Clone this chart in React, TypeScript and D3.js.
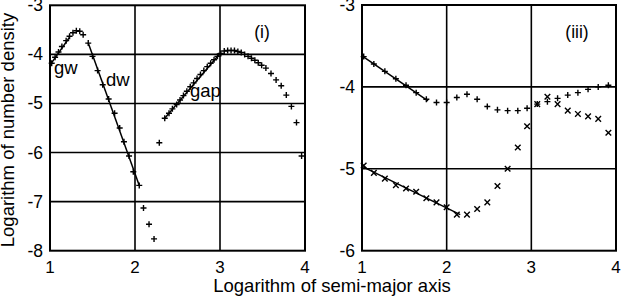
import React from 'react';
import * as d3 from 'd3';

// panel (i): log number density vs log semi-major axis
const gwX = [1.02, 1.06, 1.1, 1.14, 1.19, 1.23, 1.27, 1.31, 1.35, 1.39];
const gwY = [-4.18, -4.06, -3.95, -3.84, -3.72, -3.63, -3.56, -3.52, -3.53, -3.6];
const dwX = [1.45, 1.5, 1.56, 1.62, 1.69, 1.76, 1.82, 1.87, 1.93, 1.98, 2.05];
const dwY = [-3.77, -4.04, -4.33, -4.62, -4.91, -5.2, -5.5, -5.78, -6.07, -6.39, -6.67];
const dropX = [2.1, 2.165, 2.224, 2.286];
const dropY = [-7.13, -7.46, -7.76, -5.8];
const gapX = [
  2.35, 2.4, 2.44, 2.49, 2.53, 2.57, 2.61, 2.65, 2.69, 2.73, 2.77, 2.81, 2.85, 2.89, 2.93, 2.97,
  3.01, 3.05, 3.09, 3.13, 3.17, 3.21, 3.25, 3.29, 3.33, 3.37, 3.41, 3.45, 3.49, 3.54, 3.6, 3.66,
  3.72, 3.78, 3.84, 3.9, 3.96,
];
const gapY = [
  -5.3, -5.2, -5.11, -5.02, -4.93, -4.84, -4.75, -4.66, -4.58, -4.49, -4.41, -4.33, -4.25, -4.18,
  -4.11, -4.04, -3.98, -3.93, -3.92, -3.92, -3.92, -3.94, -3.96, -4.0, -4.04, -4.08, -4.12, -4.17,
  -4.22, -4.28, -4.39, -4.52, -4.64, -4.83, -5.06, -5.39, -6.07,
];
// fitted segments, panel (i)
const gwLine: [number, number][] = [[1.0, -4.22], [1.23, -3.65]];
const dwLine: [number, number][] = [[1.45, -3.77], [2.05, -6.67]];
const gapLine: [number, number][] = [[2.34, -5.32], [3.0, -3.98]];

// panel (iii)
const rX = [
  1.02, 1.14, 1.27, 1.4, 1.52, 1.64, 1.76, 1.88, 2.0, 2.12, 2.24, 2.36, 2.48, 2.6, 2.72, 2.84,
  2.95, 3.07, 3.19, 3.31, 3.43, 3.55, 3.67, 3.79, 3.91,
];
const plusY = [
  -3.63, -3.72, -3.81, -3.9, -3.98, -4.07, -4.15, -4.19, -4.19, -4.13, -4.09, -4.15, -4.24, -4.28,
  -4.29, -4.29, -4.26, -4.21, -4.18, -4.14, -4.1, -4.07, -4.03, -4.0, -3.98,
];
const crossY = [
  -4.96, -5.05, -5.12, -5.2, -5.24, -5.28, -5.36, -5.41, -5.47, -5.56, -5.56, -5.49, -5.41, -5.21,
  -5.0, -4.74, -4.48, -4.21, -4.12, -4.21, -4.29, -4.33, -4.36, -4.39, -4.56,
];
const plusLine: [number, number][] = [[1.0, -3.62], [1.78, -4.17]];
const crossLine: [number, number][] = [[1.0, -4.97], [2.16, -5.56]];

const xTicks = [1, 2, 3, 4];
const leftYTicks = [-3, -4, -5, -6, -7, -8];
const rightYTicks = [-3, -4, -5, -6];

const FONT = 'Liberation Sans, Arial, sans-serif';
const PLUS = 'M-3,0H3M0,-3V3';
const CROSS = 'M-2.8,-2.8L2.8,2.8M-2.8,2.8L2.8,-2.8';

type Panel = {
  x0: number; x1: number; y0: number; y1: number; yDomain: [number, number]; yTicks: number[];
};

function Frame({ p, children }: { p: Panel; children?: React.ReactNode }) {
  const x = d3.scaleLinear().domain([1, 4]).range([p.x0, p.x1]);
  const y = d3.scaleLinear().domain(p.yDomain).range([p.y1, p.y0]);
  return (
    <g>
      {xTicks.slice(1, -1).map((t) => (
        <line key={'gx' + t} x1={x(t)} x2={x(t)} y1={p.y0} y2={p.y1} stroke="#000" strokeWidth={1.6} />
      ))}
      {p.yTicks.slice(1, -1).map((t) => (
        <line key={'gy' + t} x1={p.x0} x2={p.x1} y1={y(t)} y2={y(t)} stroke="#000" strokeWidth={1.6} />
      ))}
      <rect x={p.x0} y={p.y0} width={p.x1 - p.x0} height={p.y1 - p.y0} fill="none" stroke="#000" strokeWidth={2} />
      {xTicks.map((t) => (
        <text key={'tx' + t} x={x(t)} y={273} textAnchor="middle" fontSize={17} fontFamily={FONT}>
          {t}
        </text>
      ))}
      {p.yTicks.map((t) => (
        <text key={'ty' + t} x={p.x0 - 7} y={y(t) + 6} textAnchor="end" fontSize={17.5} fontFamily={FONT}>
          {t}
        </text>
      ))}
      {children}
    </g>
  );
}

export default function App() {
  const L: Panel = { x0: 50, x1: 305, y0: 5.3, y1: 250.7, yDomain: [-8, -3], yTicks: leftYTicks };
  const R: Panel = { x0: 362, x1: 616, y0: 5, y1: 250.7, yDomain: [-6, -3], yTicks: rightYTicks };

  const lx = d3.scaleLinear().domain([1, 4]).range([L.x0, L.x1]);
  const ly = d3.scaleLinear().domain(L.yDomain).range([L.y1, L.y0]);
  const rx = d3.scaleLinear().domain([1, 4]).range([R.x0, R.x1]);
  const ry = d3.scaleLinear().domain(R.yDomain).range([R.y1, R.y0]);

  const lLine = d3.line<[number, number]>().x((d) => lx(d[0])).y((d) => ly(d[1]));
  const rLine = d3.line<[number, number]>().x((d) => rx(d[0])).y((d) => ry(d[1]));

  const leftPts = [
    ...gwX.map((v, i) => [v, gwY[i]]),
    ...dwX.map((v, i) => [v, dwY[i]]),
    ...dropX.map((v, i) => [v, dropY[i]]),
    ...gapX.map((v, i) => [v, gapY[i]]),
  ];

  return (
    <svg width={621} height={300} style={{ position: 'absolute', left: 0, top: 0, background: '#fff' }}>
      <rect width={621} height={300} fill="#fff" />
      <Frame p={L}>
        {[gwLine, dwLine, gapLine].map((seg, i) => (
          <path key={'ll' + i} d={lLine(seg) || ''} stroke="#000" strokeWidth={1.5} fill="none" />
        ))}
        {leftPts.map((d, i) => (
          <path key={'lp' + i} d={PLUS} transform={`translate(${lx(d[0])},${ly(d[1])})`} stroke="#000" strokeWidth={1.4} fill="none" />
        ))}
        <text x={54} y={74} fontSize={18.5} fontFamily={FONT}>gw</text>
        <text x={106} y={86} fontSize={18.5} fontFamily={FONT}>dw</text>
        <text x={190} y={97} fontSize={18.5} fontFamily={FONT}>gap</text>
        <text x={262} y={38} textAnchor="middle" fontSize={17.5} fontFamily={FONT}>(i)</text>
      </Frame>
      <Frame p={R}>
        {[plusLine, crossLine].map((seg, i) => (
          <path key={'rl' + i} d={rLine(seg) || ''} stroke="#000" strokeWidth={1.5} fill="none" />
        ))}
        {rX.map((v, i) => (
          <path key={'rp' + i} d={PLUS} transform={`translate(${rx(v)},${ry(plusY[i])})`} stroke="#000" strokeWidth={1.4} fill="none" />
        ))}
        {rX.map((v, i) => (
          <path key={'rc' + i} d={CROSS} transform={`translate(${rx(v)},${ry(crossY[i])})`} stroke="#000" strokeWidth={1.4} fill="none" />
        ))}
        <text x={577} y={38} textAnchor="middle" fontSize={17.5} fontFamily={FONT}>(iii)</text>
      </Frame>
      <text x={332} y={292} textAnchor="middle" fontSize={18.5} fontFamily={FONT}>
        Logarithm of semi-major axis
      </text>
      <text transform="translate(14,130) rotate(-90)" textAnchor="middle" fontSize={18.5} fontFamily={FONT}>
        Logarithm of number density
      </text>
    </svg>
  );
}
